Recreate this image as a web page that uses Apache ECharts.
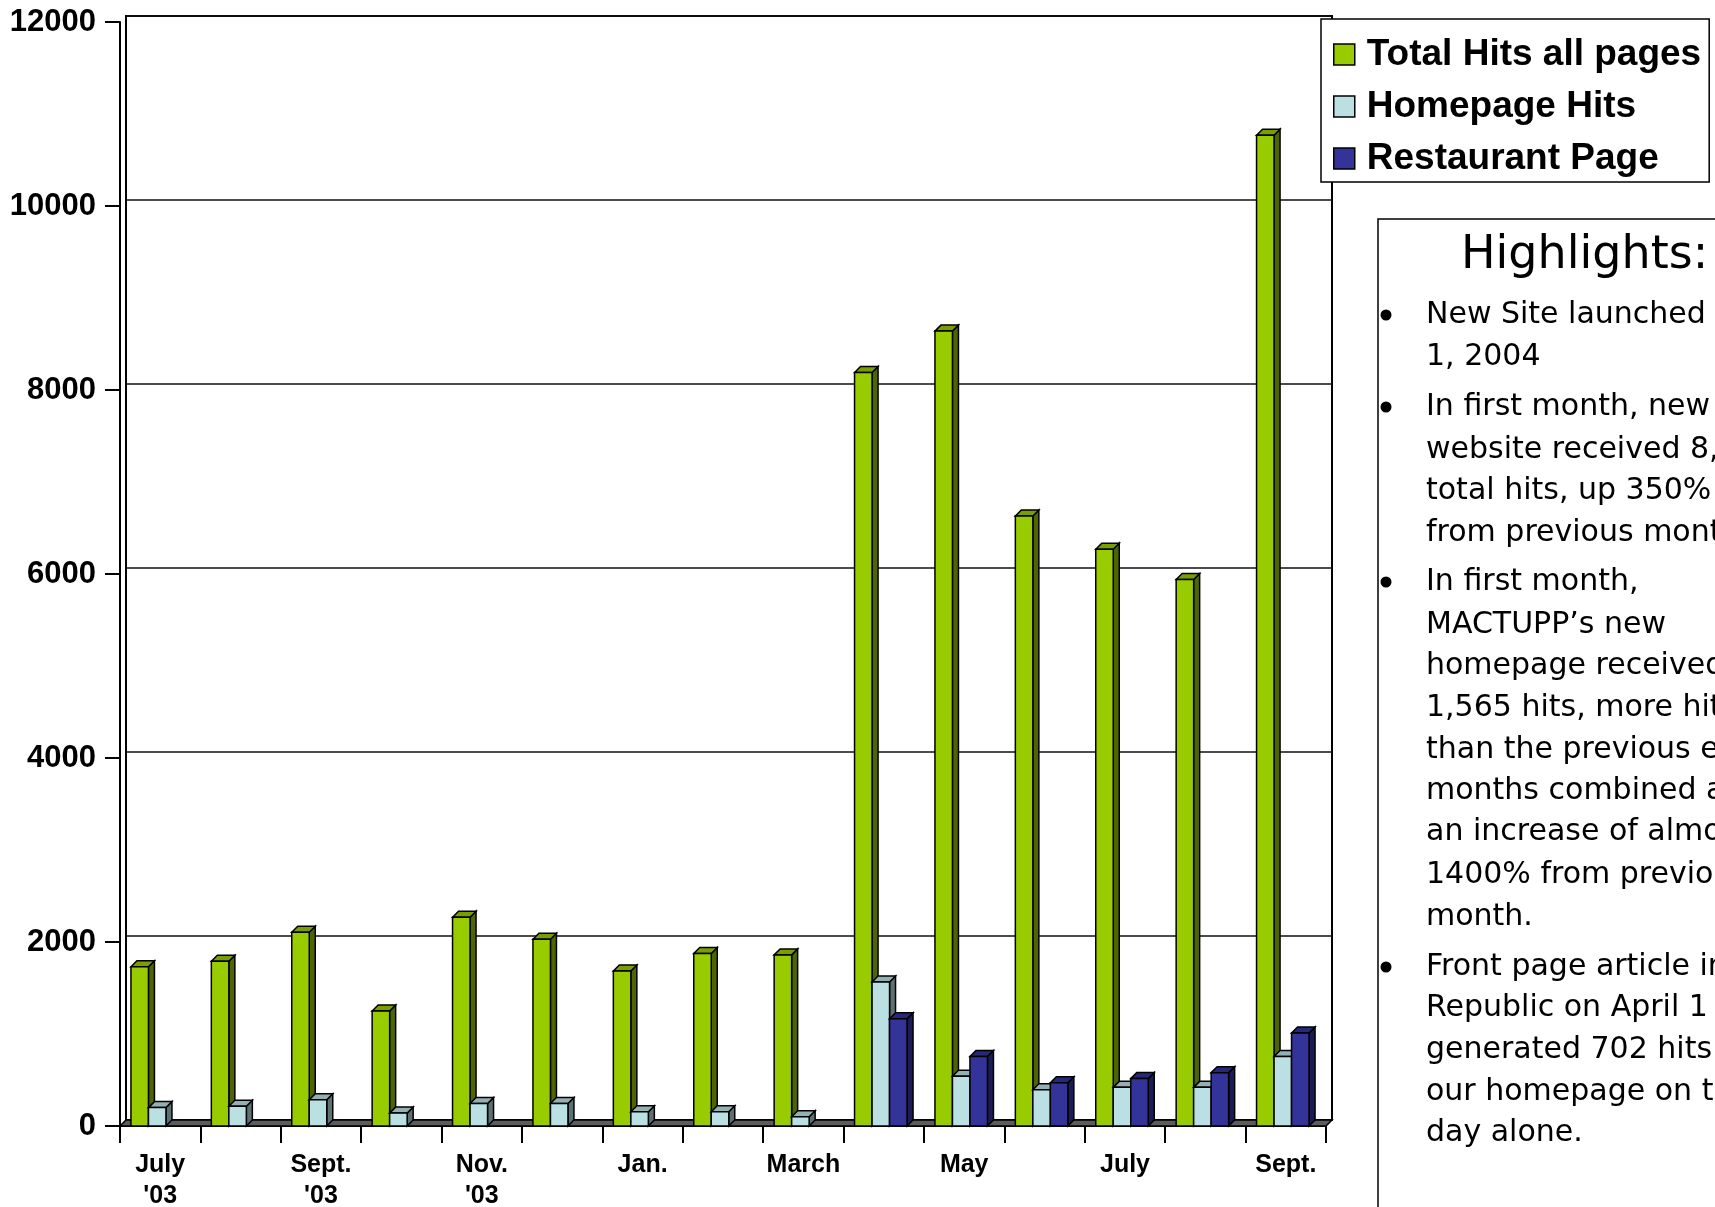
<!DOCTYPE html>
<html>
<head>
<meta charset="utf-8">
<script src="https://cdn.jsdelivr.net/npm/echarts@6/dist/echarts.min.js"></script>
<style>
  html, body { margin: 0; padding: 0; background: #fff; }
  #chart { width: 1715px; height: 1207px; }
</style>
</head>
<body>
<div id="chart"></div>
<script>
  // months July '03 .. Sept. '04, only every other one is labelled
  const months = ["July\n'03", 'Aug.', "Sept.\n'03", 'Oct.', "Nov.\n'03", 'Dec.', 'Jan.', 'Feb.', 'March', 'April', 'May', 'June', 'July', 'Aug.', 'Sept.'];
  const totalHits = [1730, 1790, 2105, 1250, 2270, 2030, 1685, 1875, 1860, 8190, 8640, 6630, 6270, 5940, 10770];
  const homepageHits = [200, 215, 285, 140, 245, 245, 155, 155, 100, 1565, 540, 395, 420, 420, 755];
  const restaurantPage = [null, null, null, null, null, null, null, null, null, 1165, 755, 470, 515, 580, 1010];
  const seriesNames = ['Total Hits all pages', 'Homepage Hits', 'Restaurant Page'];
  const yMin = 0, yMax = 12000, yStep = 2000;

  const highlightLines = [
    'New Site launched', '1, 2004',
    'In first month, new', 'website received 8,', 'total hits, up 350%', 'from previous month.',
    'In first month,', 'MACTUPP\u2019s new', 'homepage received', '1,565 hits, more hits', 'than the previous eight',
    'months combined and', 'an increase of almost', '1400% from previous', 'month.',
    'Front page article in', 'Republic on April 1', 'generated 702 hits to', 'our homepage on that', 'day alone.'
  ];
  const bulletAt = [0, 2, 6, 15];

  const chart = echarts.init(document.getElementById('chart'));

  const BW = 17.5;   // bar width
  const D = 6;       // 3d depth

  function bar3d(slot, front, side, topc) {
    return function (params, api) {
      const v = api.value(1);
      if (v == null || isNaN(v)) return null;
      const i = api.value(0);
      const p0 = api.coord([i, 0]);
      const p1 = api.coord([i, v]);
      const band = api.size([1, 0])[0];
      const x = p0[0] - band / 2 + (band - (3 * BW + D)) / 2 + slot * BW;
      const yb = p0[1], yt = p1[1];
      const line = { stroke: '#000', lineWidth: 1.5 };
      return {
        type: 'group',
        children: [
          { type: 'polygon', shape: { points: [[x + BW, yt], [x + BW + D, yt - D], [x + BW + D, yb - D], [x + BW, yb]] }, style: Object.assign({ fill: side }, line) },
          { type: 'polygon', shape: { points: [[x, yt], [x + D, yt - D], [x + BW + D, yt - D], [x + BW, yt]] }, style: Object.assign({ fill: topc }, line) },
          { type: 'rect', shape: { x: x, y: yt, width: BW, height: yb - yt }, style: Object.assign({ fill: front }, line) }
        ]
      };
    };
  }

  function toData(arr) {
    return arr.map(function (v, i) { return [i, v]; }).filter(function (d) { return d[1] != null; });
  }

  // highlights text box
  const graphics = [
    { type: 'rect', shape: { x: 1378, y: 219, width: 400, height: 1100 }, style: { fill: 'none', stroke: '#000', lineWidth: 1.5 }, z: 10 },
    { type: 'text', x: 1461, y: 256, style: { text: 'Highlights:', fill: '#000', font: '46px "DejaVu Sans"', textVerticalAlign: 'middle' }, z: 10 }
  ];
  const lineY = [315, 357, 407, 450, 491, 533, 582, 625, 666, 708, 750, 791, 832, 875, 917, 967, 1008, 1050, 1092, 1133];
  highlightLines.forEach(function (t, k) {
    graphics.push({ type: 'text', x: 1426, y: lineY[k], style: { text: t, fill: '#000', font: '30px "DejaVu Sans"', textVerticalAlign: 'middle' }, z: 10 });
  });
  bulletAt.forEach(function (k) {
    graphics.push({ type: 'circle', shape: { cx: 1386, cy: lineY[k], r: 5.5 }, style: { fill: '#000' }, z: 10 });
  });

  chart.setOption({
    backgroundColor: '#fff',
    animation: false,
    grid: [
      { left: 120, right: 389, top: 22, bottom: 81, outerBoundsMode: 'none', containLabel: false },
      { left: 126, right: 383, top: 16, bottom: 87, outerBoundsMode: 'none', containLabel: false, show: true, borderColor: '#000', borderWidth: 2, backgroundColor: '#fff' }
    ],
    legend: {
      orient: 'vertical',
      left: 1321,
      top: 19,
      padding: [17, 8, 5, 12],
      itemWidth: 21,
      itemHeight: 21,
      itemGap: 15,
      backgroundColor: '#fff',
      borderColor: '#000',
      borderWidth: 1.5,
      borderRadius: 0,
      itemStyle: { borderColor: '#000', borderWidth: 1.5 },
      textStyle: { fontFamily: 'Liberation Sans', fontWeight: 'bold', fontSize: 37, lineHeight: 36, color: '#000', padding: [0, 0, 0, 7] },
      data: seriesNames.map(function (n) { return { name: n, icon: 'rect' }; }),
      z: 20
    },
    xAxis: [
      {
        gridIndex: 0,
        type: 'category',
        data: months,
        boundaryGap: true,
        axisLine: { show: true, lineStyle: { color: '#000', width: 2 } },
        axisTick: { show: true, interval: 0, length: 17, lineStyle: { color: '#000', width: 2 } },
        axisLabel: { interval: 1, color: '#000', fontFamily: 'Liberation Sans', fontWeight: 'bold', fontSize: 25, lineHeight: 31, margin: 24 },
        splitLine: { show: false }
      },
      { gridIndex: 1, type: 'category', data: months, show: false }
    ],
    yAxis: [
      {
        gridIndex: 0,
        type: 'value',
        min: yMin, max: yMax, interval: yStep,
        axisLine: { show: true, lineStyle: { color: '#000', width: 2 } },
        axisTick: { show: true, length: 15, lineStyle: { color: '#000', width: 2 } },
        axisLabel: { color: '#000', fontFamily: 'Liberation Sans', fontWeight: 'bold', fontSize: 31, margin: 24, formatter: function (v) { return String(v); } },
        splitLine: { show: false }
      },
      {
        gridIndex: 1,
        type: 'value',
        min: yMin, max: yMax, interval: yStep,
        axisLine: { show: false },
        axisTick: { show: false },
        axisLabel: { show: false },
        splitLine: { show: true, lineStyle: { color: '#111', width: 1.5 } }
      }
    ],
    graphic: graphics,
    series: [
      {
        name: 'floor',
        type: 'custom',
        silent: true,
        xAxisIndex: 0, yAxisIndex: 0,
        data: [[0, 0]],
        renderItem: function (params, api) {
          const cs = params.coordSys;
          const yb = cs.y + cs.height;
          return {
            type: 'polygon',
            shape: { points: [[cs.x, yb], [cs.x + cs.width, yb], [cs.x + cs.width + D, yb - D], [cs.x + D, yb - D]] },
            style: { fill: '#5c5c5c', stroke: '#000', lineWidth: 1.5 }
          };
        }
      },
      {
        name: seriesNames[0], type: 'custom', xAxisIndex: 0, yAxisIndex: 0,
        itemStyle: { color: '#99cc00' },
        encode: { x: 0, y: 1 },
        data: toData(totalHits),
        renderItem: bar3d(0, '#99cc00', '#4f6600', '#7a9e00')
      },
      {
        name: seriesNames[1], type: 'custom', xAxisIndex: 0, yAxisIndex: 0,
        itemStyle: { color: '#bbe0e3' },
        encode: { x: 0, y: 1 },
        data: toData(homepageHits),
        renderItem: bar3d(1, '#bbe0e3', '#5e7172', '#93b0b2')
      },
      {
        name: seriesNames[2], type: 'custom', xAxisIndex: 0, yAxisIndex: 0,
        itemStyle: { color: '#333399' },
        encode: { x: 0, y: 1 },
        data: toData(restaurantPage),
        renderItem: bar3d(2, '#333399', '#1c1c55', '#28287a')
      }
    ]
  });
</script>
</body>
</html>
